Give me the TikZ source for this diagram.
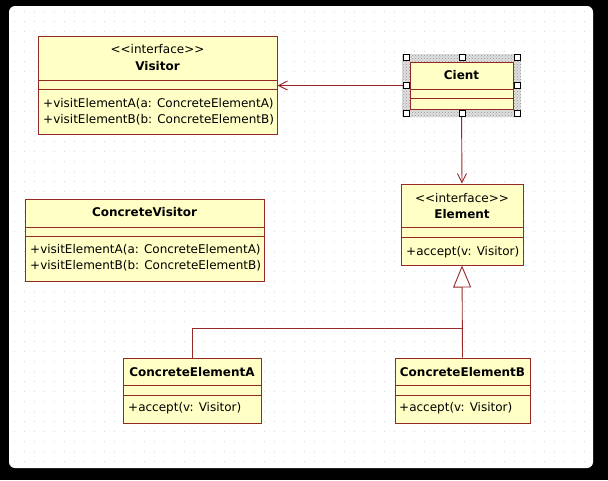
\documentclass[tikz,border=0pt]{standalone}
\usepackage{fontspec}
\setmainfont{DejaVu Sans}
\usetikzlibrary{arrows.meta,patterns}
\definecolor{umlyellow}{RGB}{255,255,198}
\definecolor{umlred}{RGB}{150,40,40}
\definecolor{griddot}{RGB}{215,215,215}
\newcommand{\stereo}{<\kern0pt<interface>\kern0pt>}
\begin{document}
\begin{tikzpicture}[x=1pt,y=-1pt,
  cls/.style={draw=umlred, fill=umlyellow, line width=1pt, inner sep=0pt},
  sep/.style={draw=umlred, line width=1pt},
  txt/.style={inner sep=0pt, font=\fontsize{12}{14}\selectfont},
  ttl/.style={inner sep=0pt, font=\fontsize{12}{14}\selectfont\bfseries},
  mth/.style={inner sep=0pt, anchor=west, font=\fontsize{12}{14}\selectfont},
  conn/.style={draw=umlred, line width=0.9pt},
  handle/.style={draw=black, fill=white, line width=0.6pt, minimum size=6pt, inner sep=0pt}]
\useasboundingbox (0,0) rectangle (608,480);
\fill[black] (0,0) rectangle (608,480);
\fill[white, rounded corners=6pt] (9,6) rectangle (593,468);
\foreach \gx in {14,24,...,590} {
  \foreach \gy in {11,21,...,465} {
    \fill[griddot] (\gx,\gy) rectangle ++(1,1);
  }
}

% Visitor
\node[cls, minimum width=239pt, minimum height=98pt] (vis) at (157.5,85.5) {};
\draw[sep] (38,80) -- (277,80);
\draw[sep] (38,89) -- (277,89);
\node[txt] (visst) at (157.5,49) {\stereo};
\node[ttl] (visnm) at (157.5,66) {Visitor};
\node[mth] (visma) at (43,104) {+visitElementA(a: ConcreteElementA)};
\node[mth] (vismb) at (43,120) {+visitElementB(b: ConcreteElementB)};

% Cient with selection
\fill[gray!25] (402,54) rectangle (521,117);
\fill[pattern=crosshatch dots, pattern color=gray!80] (402,54) rectangle (521,117);
\node[cls, minimum width=103pt, minimum height=47pt] (cient) at (461.5,85.5) {};
\draw[sep] (410,89) -- (513,89);
\draw[sep] (410,98) -- (513,98);
\node[ttl] (cientnm) at (461.5,75) {Cient};

% ConcreteVisitor
\node[cls, minimum width=239pt, minimum height=82pt] (cv) at (144.5,240) {};
\draw[sep] (25,227) -- (264,227);
\draw[sep] (25,236) -- (264,236);
\node[ttl] (cvnm) at (144.5,212) {ConcreteVisitor};
\node[mth] (cvma) at (30,250) {+visitElementA(a: ConcreteElementA)};
\node[mth] (cvmb) at (30,266) {+visitElementB(b: ConcreteElementB)};

% Element
\node[cls, minimum width=122pt, minimum height=81pt] (el) at (462,224.5) {};
\draw[sep] (401,227) -- (523,227);
\draw[sep] (401,237) -- (523,237);
\node[txt] (elst) at (462,198) {\stereo};
\node[ttl] (elnm) at (462,214) {Element};
\node[mth] (elm) at (406,252) {+accept(v: Visitor)};

% ConcreteElementA
\node[cls, minimum width=138pt, minimum height=65pt] (cea) at (192,390.5) {};
\draw[sep] (123,385) -- (261,385);
\draw[sep] (123,395) -- (261,395);
\node[ttl] (ceanm) at (192,372) {ConcreteElementA};
\node[mth] (ceam) at (128,408) {+accept(v: Visitor)};

% ConcreteElementB
\node[cls, minimum width=135pt, minimum height=65pt] (ceb) at (462.5,390.5) {};
\draw[sep] (395,385) -- (530,385);
\draw[sep] (395,395) -- (530,395);
\node[ttl] (cebnm) at (462.5,372) {ConcreteElementB};
\node[mth] (cebm) at (399,408) {+accept(v: Visitor)};

% connectors
\coordinate (j) at (462,328);
\draw[conn, -{Straight Barb[length=9pt, width=9pt]}] (cient.west) -- (vis.east);
\draw[conn, -{Straight Barb[length=9pt, width=9pt]}] (cient.south) -- (el.north);
\draw[conn, -{Triangle[open, length=22pt, width=18pt, fill=white]}] (ceb.north) -- (el.south);
\draw[conn] (cea.north) |- (j);

% selection handles
\node[handle] (h1) at (406,57) {};
\node[handle] (h2) at (462,57) {};
\node[handle] (h3) at (517,57) {};
\node[handle] (h4) at (406,85) {};
\node[handle] (h5) at (517,85) {};
\node[handle] (h6) at (406,113) {};
\node[handle] (h7) at (462,113) {};
\node[handle] (h8) at (517,113) {};
\end{tikzpicture}
\end{document}
